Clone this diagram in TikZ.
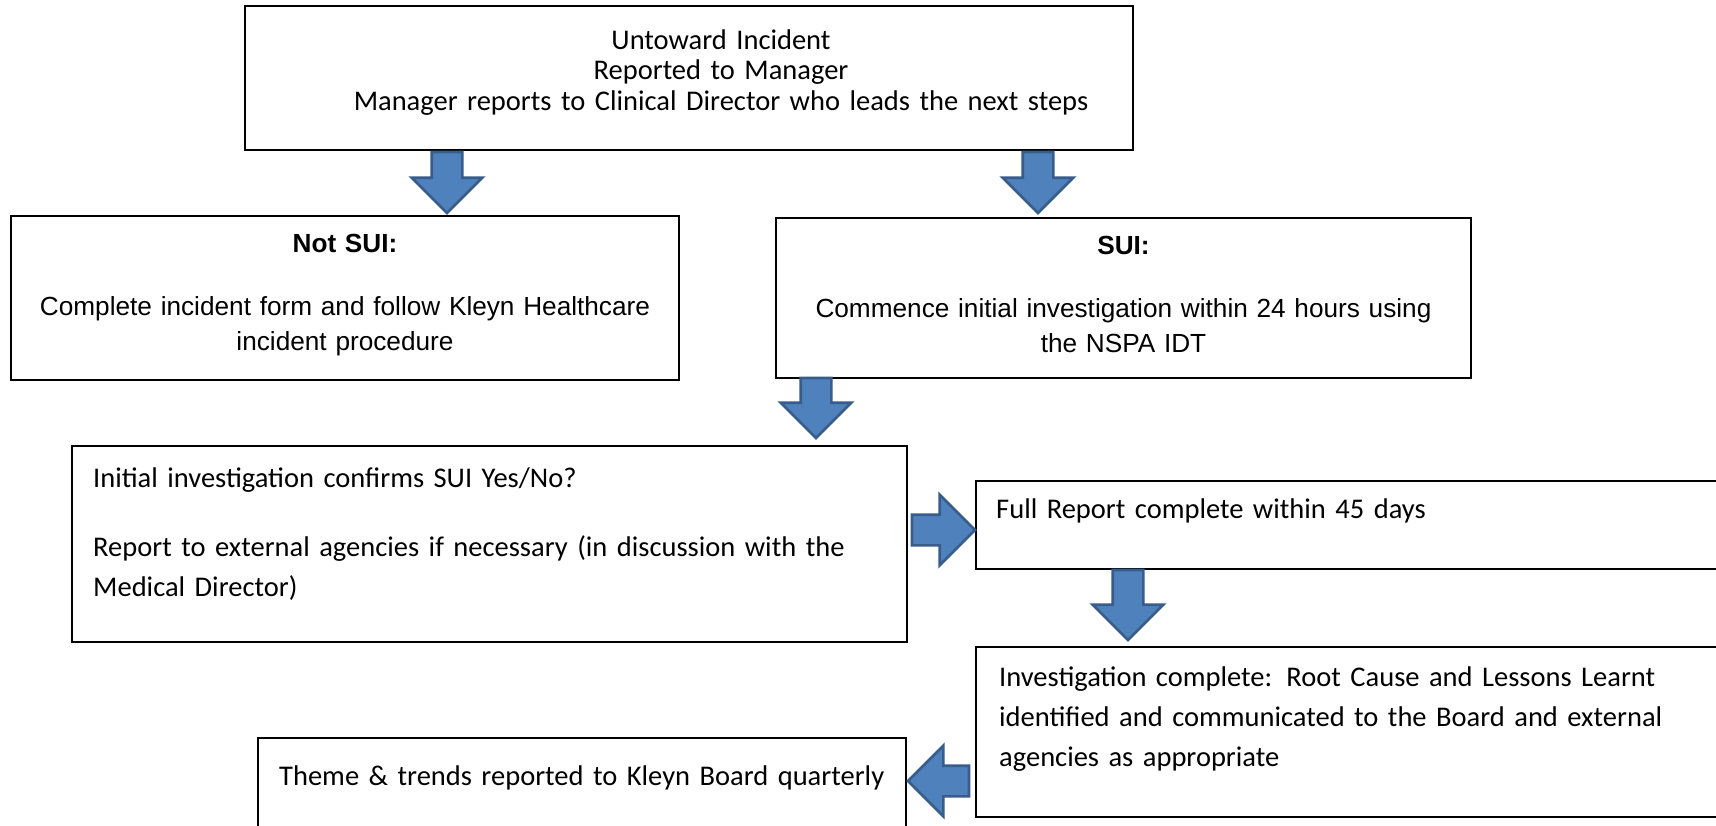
\documentclass[tikz,border=0pt]{standalone}
\usepackage{fontspec}
\setmainfont{Carlito}
\newfontfamily\arialfont{Liberation Sans}
\usetikzlibrary{shapes.arrows}
\definecolor{arrowFill}{RGB}{79, 129, 189}
\definecolor{arrowLine}{RGB}{56, 93, 138}
\newcommand{\lIncident}{Untoward Incident\\Reported to Manager\\Manager reports to Clinical Director who leads the next steps}
\newcommand{\lNotSui}{\textbf{Not SUI:}\\[28pt]Complete incident form and follow Kleyn Healthcare\\incident procedure}
\newcommand{\lSui}{\textbf{SUI:}\\[28pt]Commence initial investigation within 24 hours using\\the NSPA IDT}
\newcommand{\lInitial}{Initial investigation confirms SUI Yes/No?\\[29pt]Report to external agencies if necessary (in discussion with the\\Medical Director)}
\newcommand{\lFullReport}{Full Report complete within 45 days}
\newcommand{\lComplete}{Investigation complete: Root Cause and Lessons Learnt\\identified and communicated to the Board and external\\agencies as appropriate}
\newcommand{\lThemes}{Theme \& trends reported to Kleyn Board quarterly}

\begin{document}
\begin{tikzpicture} [
        x=1pt, y=-1pt,
        flow box/.style={draw, line width=2pt, anchor=north west, inner sep=0pt, outer sep=0pt},
        title text/.style={font=\fontsize{28.5}{30.5}\selectfont, inner sep=0pt, text width=#1, align=center, anchor=base},
        head text/.style={font=\arialfont\fontsize{26.2}{35}\selectfont, inner sep=0pt, text width=#1, align=center, anchor=base},
        body text/.style={font=\fontsize{28.5}{40}\selectfont, inner sep=0pt, text width=#1, align=left, anchor=base west},
        fat arrow/.style={single arrow, fill=arrowFill, draw=arrowLine, line width=2.7pt, inner xsep=0pt, inner ysep=14pt, single arrow head extend=20pt, single arrow tip angle=90, outer sep=0pt, anchor=tail}
    ]

    \useasboundingbox[fill=white] (0,0) rectangle (1716,825);

    % boxes
    \path (245,6) node[flow box, minimum width=888, minimum height=144] (incident) {};
    \path (11,216) node[flow box, minimum width=668, minimum height=164] (not sui) {};
    \path (776,218) node[flow box, minimum width=695, minimum height=160] (sui) {};
    \path (72,446) node[flow box, minimum width=835, minimum height=196] (initial) {};
    \path (976,481) node[flow box, minimum width=780, minimum height=88] (full report) {};
    \path (976,647) node[flow box, minimum width=780, minimum height=170] (complete) {};
    \path (258,738) node[flow box, minimum width=648, minimum height=120] (themes) {};

    % texts
    \path (incident.north) ++(32,43) node[title text=880] {\lIncident};
    \path (not sui.north) ++(0,36) node[head text=660] {\lNotSui};
    \path (sui.north) ++(0,36) node[head text=690] {\lSui};
    \path (initial.north west) ++(21,41) node[body text=810] {\lInitial};
    \path (full report.north west) ++(20,37) node[body text=720] {\lFullReport};
    \path (complete.north west) ++(23,39) node[body text=720] {\lComplete};
    \path (themes.north west) ++(21,47) node[body text=640] {\lThemes};

    % block arrows
    \path (incident.south west) ++(202,2) node[fat arrow, rotate=-90, minimum height=61] (to not sui) {};
    \path (incident.south west) ++(793,2) node[fat arrow, rotate=-90, minimum height=61] (to sui) {};
    \path (sui.south west) ++(40,0) node[fat arrow, rotate=-90, minimum height=60] (to initial) {};
    \path (initial.north east) ++(5,84) node[fat arrow, minimum height=63] (to full report) {};
    \path (full report.south west) ++(152,1) node[fat arrow, rotate=-90, minimum height=70] (to complete) {};
    \path (complete.south west) ++(-7,-36) node[fat arrow, rotate=180, minimum height=61] (to themes) {};

\end{tikzpicture}
\end{document}
